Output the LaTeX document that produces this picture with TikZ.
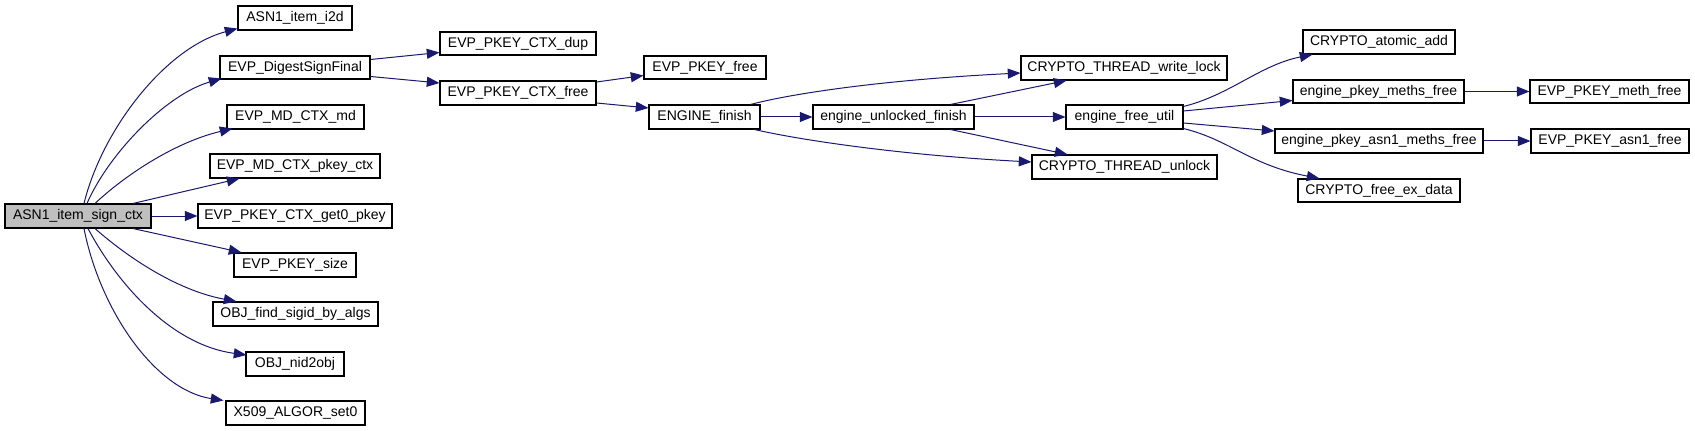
\documentclass[tikz,border=0pt]{standalone}
\usepackage{fontspec}
\setmainfont{Liberation Sans}
\usetikzlibrary{arrows.meta,calc}
\definecolor{edgec}{HTML}{191970}
\definecolor{maingray}{HTML}{BFBFBF}
\tikzset{
  fbox/.style={draw=black, line width=0.8pt, fill=white, inner sep=0pt, font=\fontsize{10.5pt}{12pt}\selectfont},
  mainbox/.style={fbox, fill=maingray},
  call/.style={draw=edgec, line width=0.75pt, -{Triangle[length=9.5pt,width=7.5pt]}},
}
\newcommand\mybox[7][fbox]{\node[#1, minimum width=(#5-#3)*0.75pt, minimum height=(#6-#4)*0.75pt] (#2) at ({(#3+#5)/2},{(#4+#6)/2}) {#7};}
\begin{document}
\begin{tikzpicture}[x=0.75pt,y=-0.75pt]
\useasboundingbox (0,0) rectangle (1695,431);
\mybox[mainbox]{main}{5}{204}{151}{228}{ASN1\_item\_sign\_ctx}
\mybox{i2d}{238}{6}{352}{30}{ASN1\_item\_i2d}
\mybox{dsf}{220}{56}{370}{79}{EVP\_DigestSignFinal}
\mybox{mdmd}{227}{105}{364}{129}{EVP\_MD\_CTX\_md}
\mybox{mdpk}{210}{154}{380}{178}{EVP\_MD\_CTX\_pkey\_ctx}
\mybox{get0}{198}{204}{392}{228}{EVP\_PKEY\_CTX\_get0\_pkey}
\mybox{size}{234}{253}{356}{277}{EVP\_PKEY\_size}
\mybox{sigid}{213}{302}{378}{326}{OBJ\_find\_sigid\_by\_algs}
\mybox{nid}{246}{352}{344}{376}{OBJ\_nid2obj}
\mybox{algor}{226}{401}{365}{425}{X509\_ALGOR\_set0}
\mybox{dup}{440}{32}{596}{55}{EVP\_PKEY\_CTX\_dup}
\mybox{ctxfree}{440}{81}{596}{105}{EVP\_PKEY\_CTX\_free}
\mybox{pkfree}{644}{56}{766}{79}{EVP\_PKEY\_free}
\mybox{engfin}{649}{105}{760}{129}{ENGINE\_finish}
\mybox{wlock}{1021}{56}{1227}{80}{CRYPTO\_THREAD\_write\_lock}
\mybox{unlf}{813}{105}{974}{129}{engine\_unlocked\_finish}
\mybox{efu}{1066}{105}{1183}{129}{engine\_free\_util}
\mybox{unlock}{1032}{155}{1217}{179}{CRYPTO\_THREAD\_unlock}
\mybox{atomic}{1303}{30}{1455}{54}{CRYPTO\_atomic\_add}
\mybox{meths}{1293}{80}{1464}{103}{engine\_pkey\_meths\_free}
\mybox{methfree}{1530}{80}{1689}{103}{EVP\_PKEY\_meth\_free}
\mybox{asn1m}{1275}{129}{1483}{153}{engine\_pkey\_asn1\_meths\_free}
\mybox{asn1free}{1531}{129}{1689}{153}{EVP\_PKEY\_asn1\_free}
\mybox{exdata}{1298}{179}{1460}{202}{CRYPTO\_free\_ex\_data}
% edges from main
\draw[call] ($(main.north)+(6,0)$) .. controls (102,130) and (165,48) .. ($(i2d.south west)+(0,-2)$);
\draw[call] ($(main.north)+(9,0)$) .. controls (108,155) and (165,95) .. ($(dsf.south west)+(2,-1)$);
\draw[call] ($(main.north)+(17,0)$) .. controls (122,178) and (172,143) .. ($(mdmd.south west)+(6,-1)$);
\draw[call] ($(main.north)+(55,0)$) -- ($(mdpk.south west)+(30,0)$);
\draw[call] (main.east) -- (get0.west);
\draw[call] ($(main.south)+(55,0)$) -- ($(size.north west)+(8,0)$);
\draw[call] ($(main.south)+(17,0)$) .. controls (125,255) and (175,290) .. ($(sigid.north west)+(24,0)$);
\draw[call] ($(main.south)+(10,0)$) .. controls (118,285) and (172,345) .. ($(nid.west)+(1,-9)$);
\draw[call] ($(main.south)+(6,0)$) .. controls (100,310) and (155,390) .. ($(algor.north west)+(-2,0)$);
% second level
\draw[call] ($(dsf.east)+(0,-8)$) -- ($(dup.west)+(0,9)$);
\draw[call] ($(dsf.east)+(0,9)$) -- ($(ctxfree.west)+(0,-10)$);
\draw[call] ($(ctxfree.east)+(0,-11)$) -- ($(pkfree.west)+(0,8)$);
\draw[call] ($(ctxfree.east)+(0,10)$) -- ($(engfin.west)+(0,-9)$);
\draw[call] (engfin.east) -- (unlf.west);
\draw[call] ($(engfin.north east)+(-10,0)$) .. controls (790,94) and (880,80) .. ($(wlock.west)+(0,5)$);
\draw[call] ($(engfin.south east)+(-6,0)$) .. controls (800,140) and (900,155) .. ($(unlock.west)+(0,-5)$);
\draw[call] ($(unlf.north east)+(-24,0)$) -- ($(wlock.south west)+(46,0)$);
\draw[call] ($(unlf.south east)+(-24,0)$) -- ($(unlock.north west)+(36,0)$);
\draw[call] (unlf.east) -- (efu.west);
\draw[call] ($(efu.north east)+(0,2)$) .. controls (1230,95) and (1260,65) .. ($(atomic.south west)+(10,0)$);
\draw[call] ($(efu.east)+(0,-6)$) -- ($(meths.west)+(0,9)$);
\draw[call] ($(efu.east)+(0,6)$) -- ($(asn1m.west)+(0,-10)$);
\draw[call] ($(efu.south east)+(0,-1)$) .. controls (1230,140) and (1250,165) .. ($(exdata.north west)+(22,0)$);
\draw[call] (meths.east) -- (methfree.west);
\draw[call] (asn1m.east) -- (asn1free.west);
\end{tikzpicture}
\end{document}
